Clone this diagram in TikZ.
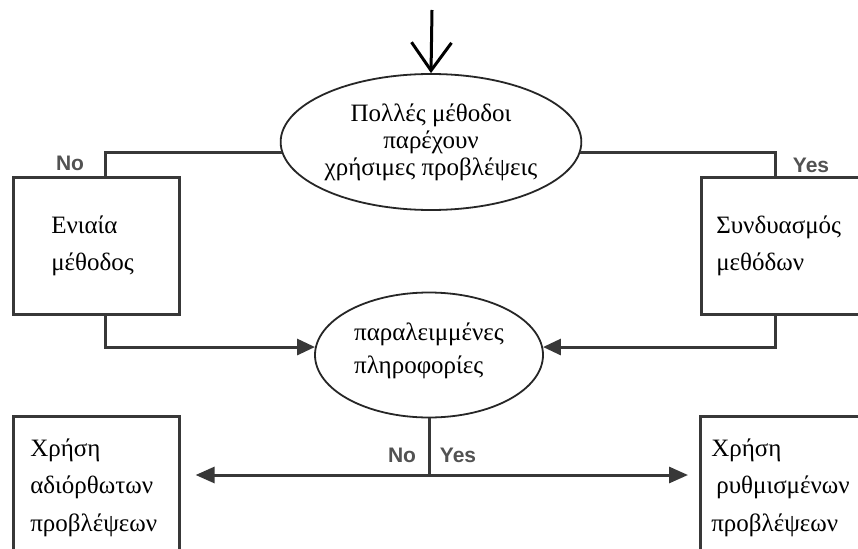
\documentclass[tikz,border=0pt]{standalone}
\usepackage{fontspec}
\setmainfont{Liberation Serif}
\newfontfamily\labelfont{Liberation Sans}
\usetikzlibrary{arrows.meta,shapes.geometric}

\begin{document}
\begin{tikzpicture}[x=1pt,y=-1pt,
  conn/.style={line width=3pt, draw=black!78},
  box/.style={draw=black!78, line width=2.6pt, anchor=north west, align=left,
    inner ysep=0pt, font=\fontsize{25}{37.5}\selectfont},
  oval/.style={ellipse, draw=black!85, line width=1.8pt, inner sep=0pt},
  yn/.style={font=\labelfont\bfseries\fontsize{21}{24}\selectfont,
    text=black!68, anchor=base, inner sep=0pt},
  tri/.style={-{Triangle[length=18pt,width=16pt]}},
  barb/.style={-{Straight Barb[length=28pt,width=40pt]}}
]
\useasboundingbox (0,0) rectangle (858,548);
\fill[white] (0,0) rectangle (858,548);
\clip (0,0) rectangle (858,548);

% decision ovals
\node[oval, minimum width=280pt, minimum height=136pt, align=center,
  font=\fontsize{25}{27}\selectfont] (top) at (431,142)
  {Πολλές μέθοδοι\\παρέχουν\\χρήσιμες προβλέψεις};
\node[oval, minimum width=228pt, minimum height=125pt, align=left,
  font=\fontsize{25}{33}\selectfont] (mid) at (429,355)
  {παραλειμμένες\\πληροφορίες\rule[-13pt]{0pt}{0pt}};

% method boxes
\node[box, inner xsep=38pt, text width=90pt, minimum height=137pt] (b1) at (12,176)
  {Ενιαία\\μέθοδος};
\node[box, inner xsep=15pt, text width=150pt, minimum height=137pt] (b2) at (700,176)
  {Συνδυασμός\\μεθόδων};

% outcome boxes
\node[box, inner xsep=17pt, text width=132pt, minimum height=143pt] (b3) at (12,415)
  {Χρήση\\αδιόρθωτων\\προβλέψεων};
\node[box, inner xsep=11pt, text width=160pt, minimum height=143pt] (b4) at (699,415)
  {Χρήση\\\hspace*{5pt}ρυθμισμένων\\προβλέψεων};

% entry arrow
\coordinate (start) at (432,10);
\draw[conn, draw=black, barb] (start) -- (top.north);

% branches of the first decision
\draw[conn] (top.184) -| ([xshift=93pt]b1.north west);
\draw[conn] (top.356) -| ([xshift=75pt]b2.north west);
\node[yn] (no1) at (70,170) {No};
\node[yn] (yes1) at (811,172) {Yes};

% both methods lead to the second decision
\draw[conn, tri] ([xshift=93pt]b1.south west) |- (mid.176);
\draw[conn, tri] ([xshift=75pt]b2.south west) |- (mid.4);

% branches of the second decision
\coordinate (j) at (429,475);
\draw[conn] (mid.south) -- (j);
\draw[conn, {Triangle[length=19pt,width=16pt]}-{Triangle[length=19pt,width=16pt]},
  shorten <=15pt, shorten >=11pt] (b3.east |- j) -- (b4.west |- j);
\node[yn] (no2) at (402,462) {No};
\node[yn] (yes2) at (458,462) {Yes};
\end{tikzpicture}
\end{document}
